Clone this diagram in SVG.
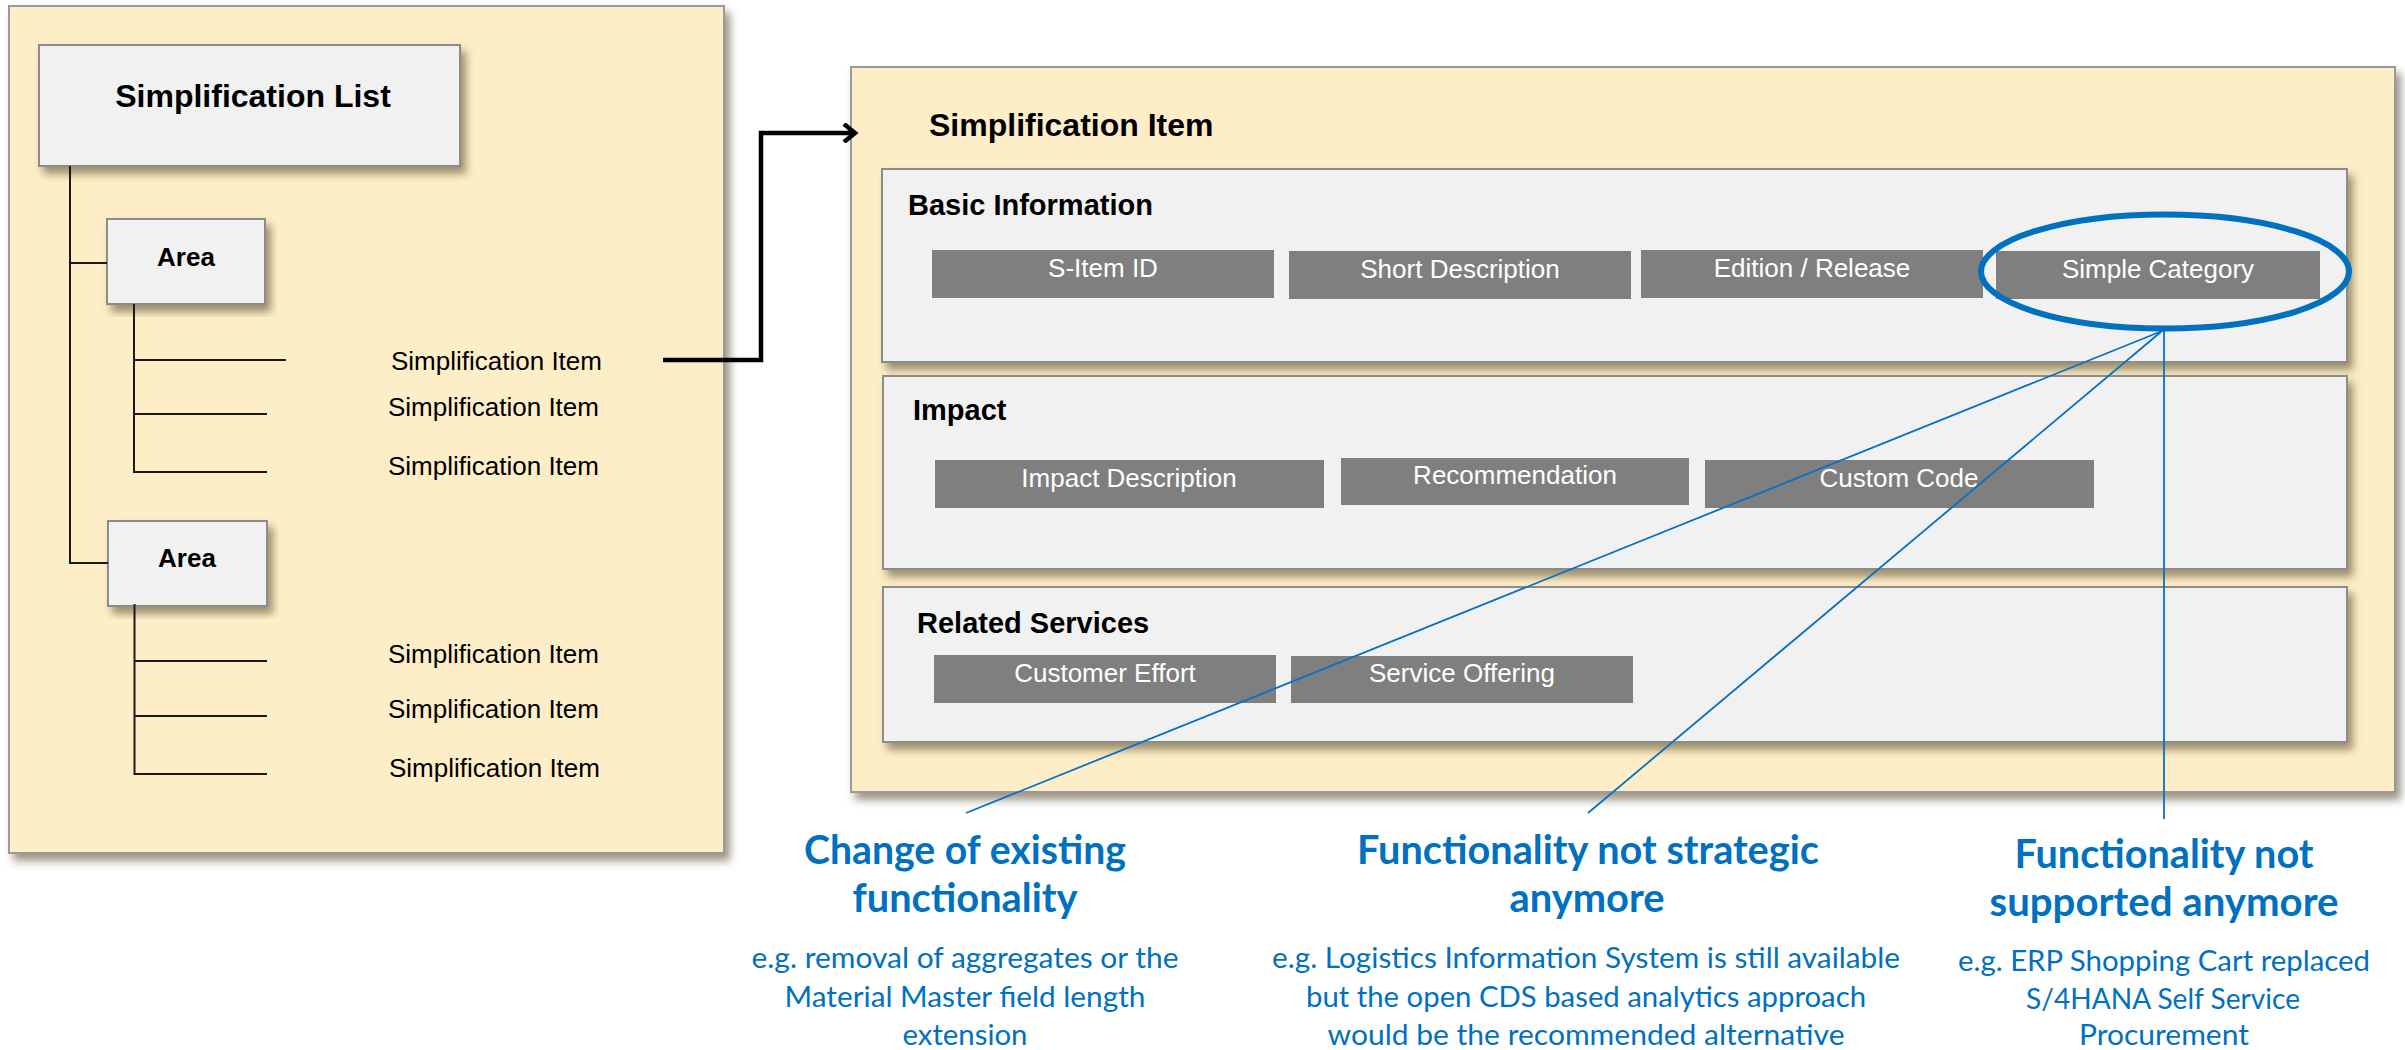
<svg xmlns="http://www.w3.org/2000/svg" width="2405" height="1050" viewBox="0 0 2405 1050">
<defs>
<filter id="sh" x="-5%" y="-5%" width="112%" height="120%">
<feDropShadow dx="5" dy="7" stdDeviation="4" flood-color="#4d3f24" flood-opacity="0.55"/>
</filter>
<marker id="arr" markerWidth="18" markerHeight="20" refX="14" refY="10" orient="auto" markerUnits="userSpaceOnUse">
<path d="M3,1 L14,10 L3,19" fill="none" stroke="#000" stroke-width="4.5"/>
</marker>
<style>
.panel{fill:#FEEEC8;stroke:#9a9a9a;stroke-width:2}
.box{fill:#F1F1F1;stroke:#8c8c8c;stroke-width:2}
.chip{fill:#7F7F7F}
.chipt{font-family:"Liberation Sans",Arial,sans-serif;font-size:26px;fill:#fff;text-anchor:middle}
.bold{font-family:"Liberation Sans",Arial,sans-serif;font-weight:bold;fill:#000}
.item{font-family:"Liberation Sans",Arial,sans-serif;font-size:26px;fill:#000}
.tree{stroke:#1a1a1a;stroke-width:2;fill:none}
.blue{stroke:#0A70C4;stroke-width:1.8;fill:none}
.h{font-family:Lato,"Open Sans",sans-serif;font-weight:bold;font-size:40px;fill:#0070C0;text-anchor:middle}
.s{font-family:Lato,"Open Sans",sans-serif;font-size:28px;fill:#0070C0;text-anchor:middle}
</style>
</defs>

<g id="list-panel">
<rect class="panel" x="9" y="6" width="715" height="847" filter="url(#sh)"/>
</g>
<g id="simplification-list">
<rect class="box" x="39" y="45" width="421" height="121" filter="url(#sh)"/>
<text class="bold" x="253" y="107" font-size="32" text-anchor="middle">Simplification List</text>
</g>
<g id="area-1">
<rect class="box" x="107" y="219" width="158" height="85" filter="url(#sh)"/>
<text class="bold" x="186" y="266" font-size="26" text-anchor="middle">Area</text>
</g>
<g id="area-2">
<rect class="box" x="108" y="521" width="159" height="85" filter="url(#sh)"/>
<text class="bold" x="187" y="567" font-size="26" text-anchor="middle">Area</text>
</g>
<g id="items">
<text class="item" x="391" y="370">Simplification Item</text>
<text class="item" x="388" y="416">Simplification Item</text>
<text class="item" x="388" y="475">Simplification Item</text>
<text class="item" x="388" y="663">Simplification Item</text>
<text class="item" x="388" y="718">Simplification Item</text>
<text class="item" x="389" y="777">Simplification Item</text>
</g>

<g id="item-panel">
<rect class="panel" x="851" y="67" width="1544" height="725" filter="url(#sh)"/>
<text class="bold" x="929" y="136" font-size="32">Simplification Item</text>
</g>
<g id="basic-information">
<rect class="box" x="882" y="169" width="1465" height="193" filter="url(#sh)"/>
<text class="bold" x="908" y="215" font-size="29">Basic Information</text>
<rect class="chip" x="932" y="250" width="342" height="48"/>
<text class="chipt" x="1103" y="277">S-Item ID</text>
<rect class="chip" x="1289" y="251" width="342" height="48"/>
<text class="chipt" x="1460" y="278">Short Description</text>
<rect class="chip" x="1641" y="250" width="342" height="48"/>
<text class="chipt" x="1812" y="277">Edition / Release</text>
<rect class="chip" x="1996" y="251" width="324" height="48"/>
<text class="chipt" x="2158" y="278">Simple Category</text>
<ellipse cx="2165" cy="271.5" rx="184" ry="57" fill="none" stroke="#0070C0" stroke-width="6"/>
</g>
<g id="impact">
<rect class="box" x="883" y="376" width="1464" height="193" filter="url(#sh)"/>
<text class="bold" x="913" y="420" font-size="29">Impact</text>
<rect class="chip" x="935" y="460" width="389" height="48"/>
<text class="chipt" x="1129" y="487">Impact Description</text>
<rect class="chip" x="1341" y="458" width="348" height="47"/>
<text class="chipt" x="1515" y="484">Recommendation</text>
<rect class="chip" x="1705" y="460" width="389" height="48"/>
<text class="chipt" x="1899" y="487">Custom Code</text>
</g>
<g id="related-services">
<rect class="box" x="883" y="587" width="1464" height="155" filter="url(#sh)"/>
<text class="bold" x="917" y="633" font-size="29">Related Services</text>
<rect class="chip" x="934" y="655" width="342" height="48"/>
<text class="chipt" x="1105" y="682">Customer Effort</text>
<rect class="chip" x="1291" y="656" width="342" height="47"/>
<text class="chipt" x="1462" y="682">Service Offering</text>
</g>

<g id="connectors">
<path class="tree" d="M70,166 V563 H108 M70,263 H107"/>
<path class="tree" d="M134,304 V472 H267 M134,360 H286 M134,414 H267"/>
<path class="tree" d="M134.5,604 V774 H267 M134.5,661 H267 M134.5,716 H267"/>
<path d="M663,360 H761 V133 H855" fill="none" stroke="#000" stroke-width="4.5" marker-end="url(#arr)"/>
<line class="blue" x1="2162" y1="331" x2="966" y2="813"/>
<line class="blue" x1="2162" y1="331" x2="1588" y2="813"/>
<line class="blue" x1="2164" y1="331" x2="2164" y2="819" stroke="#3C8FD2"/>
</g>

<g id="category-change">
<text class="h" x="965" y="864" textLength="322" lengthAdjust="spacingAndGlyphs">Change of existing</text>
<text class="h" x="965" y="912" textLength="225" lengthAdjust="spacingAndGlyphs">functionality</text>
<text class="s" x="965" y="968" textLength="427" lengthAdjust="spacingAndGlyphs">e.g. removal of aggregates or the</text>
<text class="s" x="965" y="1007" textLength="361" lengthAdjust="spacingAndGlyphs">Material Master field length</text>
<text class="s" x="965" y="1045" textLength="125" lengthAdjust="spacingAndGlyphs">extension</text>
</g>
<g id="category-not-strategic">
<text class="h" x="1588" y="864" textLength="462" lengthAdjust="spacingAndGlyphs">Functionality not strategic</text>
<text class="h" x="1587" y="912" textLength="155" lengthAdjust="spacingAndGlyphs">anymore</text>
<text class="s" x="1586" y="968" textLength="628" lengthAdjust="spacingAndGlyphs">e.g. Logistics Information System is still available</text>
<text class="s" x="1586" y="1007" textLength="560" lengthAdjust="spacingAndGlyphs">but the open CDS based analytics approach</text>
<text class="s" x="1586" y="1045" textLength="517" lengthAdjust="spacingAndGlyphs">would be the recommended alternative</text>
</g>
<g id="category-not-supported">
<text class="h" x="2164" y="868" textLength="299" lengthAdjust="spacingAndGlyphs">Functionality not</text>
<text class="h" x="2164" y="916" textLength="349" lengthAdjust="spacingAndGlyphs">supported anymore</text>
<text class="s" x="2164" y="971" textLength="412" lengthAdjust="spacingAndGlyphs">e.g. ERP Shopping Cart replaced</text>
<text class="s" x="2163" y="1009" textLength="274" lengthAdjust="spacingAndGlyphs">S/4HANA Self Service</text>
<text class="s" x="2164" y="1045" textLength="170" lengthAdjust="spacingAndGlyphs">Procurement</text>
</g>
</svg>
